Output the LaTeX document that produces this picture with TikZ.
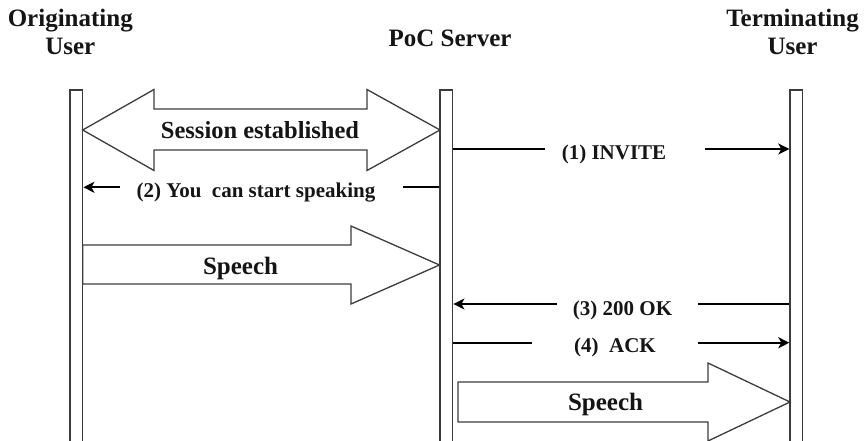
\documentclass[tikz,border=0pt]{standalone}
\usepackage{fontspec}
\setmainfont{Liberation Serif}
\usetikzlibrary{arrows.meta}
\definecolor{edge}{HTML}{3C3C3C}
\definecolor{ink}{HTML}{151515}
\begin{document}
\begin{tikzpicture}[x=1pt,y=-1pt,
  lifeline/.style={draw=edge,line width=1.4pt,minimum width=12.7pt,minimum height=360pt,inner sep=0pt},
  bigarrow/.style={draw=edge,line width=1.3pt,fill=white,line join=miter},
  msg/.style={draw=black,line width=2pt},
  msgtip/.style={msg,-{Stealth[length=11pt,width=11pt,inset=3pt]}},
  header/.style={font=\fontsize{25}{28}\selectfont\bfseries,text=ink,align=center,anchor=base,inner sep=0pt},
  msglabel/.style={font=\fontsize{21}{24}\selectfont\bfseries,text=ink,anchor=base,inner sep=0pt},
  biglabel/.style={font=\fontsize{25}{28}\selectfont\bfseries,text=ink,anchor=base,inner sep=0pt}]
\useasboundingbox (0,0) rectangle (866,441);
\fill[white] (0,0) rectangle (866,441);
\begin{scope}
\clip (0,0) rectangle (866,441);

% participants (base anchor sits on the last line)
\node[header] (h1) at (70.3,55) {Originating\\User};
\node[header] (h2) at (450,47) {PoC Server};
\node[header] (h3) at (792.5,55) {Terminating\\User};

% lifelines
\node[lifeline] (orig) at (76.35,270) {};
\node[lifeline] (srv)  at (446.35,270) {};
\node[lifeline] (term) at (796.35,270) {};

% session set-up (double block arrow)
\draw[bigarrow] (82.7,130) -- (154,89.5) -- (154,109) -- (367,109) -- (367,89.5)
  -- (440,130) -- (367,170.5) -- (367,150) -- (154,150) -- (154,170.5) -- cycle;
\node[biglabel,font=\fontsize{24.5}{28}\selectfont\bfseries] (sess) at (260,138.5) {Session established};

% speech, originating user to server
\draw[bigarrow] (82.7,245) -- (351,245) -- (351,226) -- (439.5,265) -- (351,304)
  -- (351,284) -- (82.7,284) -- cycle;
\node[biglabel] (sp1) at (240.5,274) {Speech};

% speech, server to terminating user
\draw[bigarrow] (458,382) -- (708,382) -- (708,363) -- (790,402) -- (708,441)
  -- (708,422) -- (458,422) -- cycle;
\node[biglabel] (sp2) at (605.5,410.7) {Speech};

% (1) INVITE
\coordinate (g1a) at (545,149);
\coordinate (g1b) at (705,149);
\draw[msg] (srv.east |- g1a) -- (g1a);
\draw[msgtip] (g1b) -- (term.west |- g1b);
\node[msglabel] (m1) at (614,159.5) {(1) INVITE};

% (2) You can start speaking
\coordinate (g2a) at (403,187.3);
\coordinate (g2b) at (120,187.3);
\draw[msg] (srv.west |- g2a) -- (g2a);
\draw[msgtip] (g2b) -- (orig.east |- g2b);
\node[msglabel] (m2) at (256,197.3) {(2) You\ \ can start speaking};

% (3) 200 OK
\coordinate (g3a) at (698,304);
\coordinate (g3b) at (557,304);
\draw[msg] (term.west |- g3a) -- (g3a);
\draw[msgtip] (g3b) -- (srv.east |- g3b);
\node[msglabel] (m3) at (622.5,315) {(3) 200 OK};

% (4) ACK
\coordinate (g4a) at (532,342.7);
\coordinate (g4b) at (698,342.7);
\draw[msg] (srv.east |- g4a) -- (g4a);
\draw[msgtip] (g4b) -- (term.west |- g4b);
\node[msglabel] (m4) at (615,352) {(4)\ \ ACK};
\end{scope}
\end{tikzpicture}
\end{document}
